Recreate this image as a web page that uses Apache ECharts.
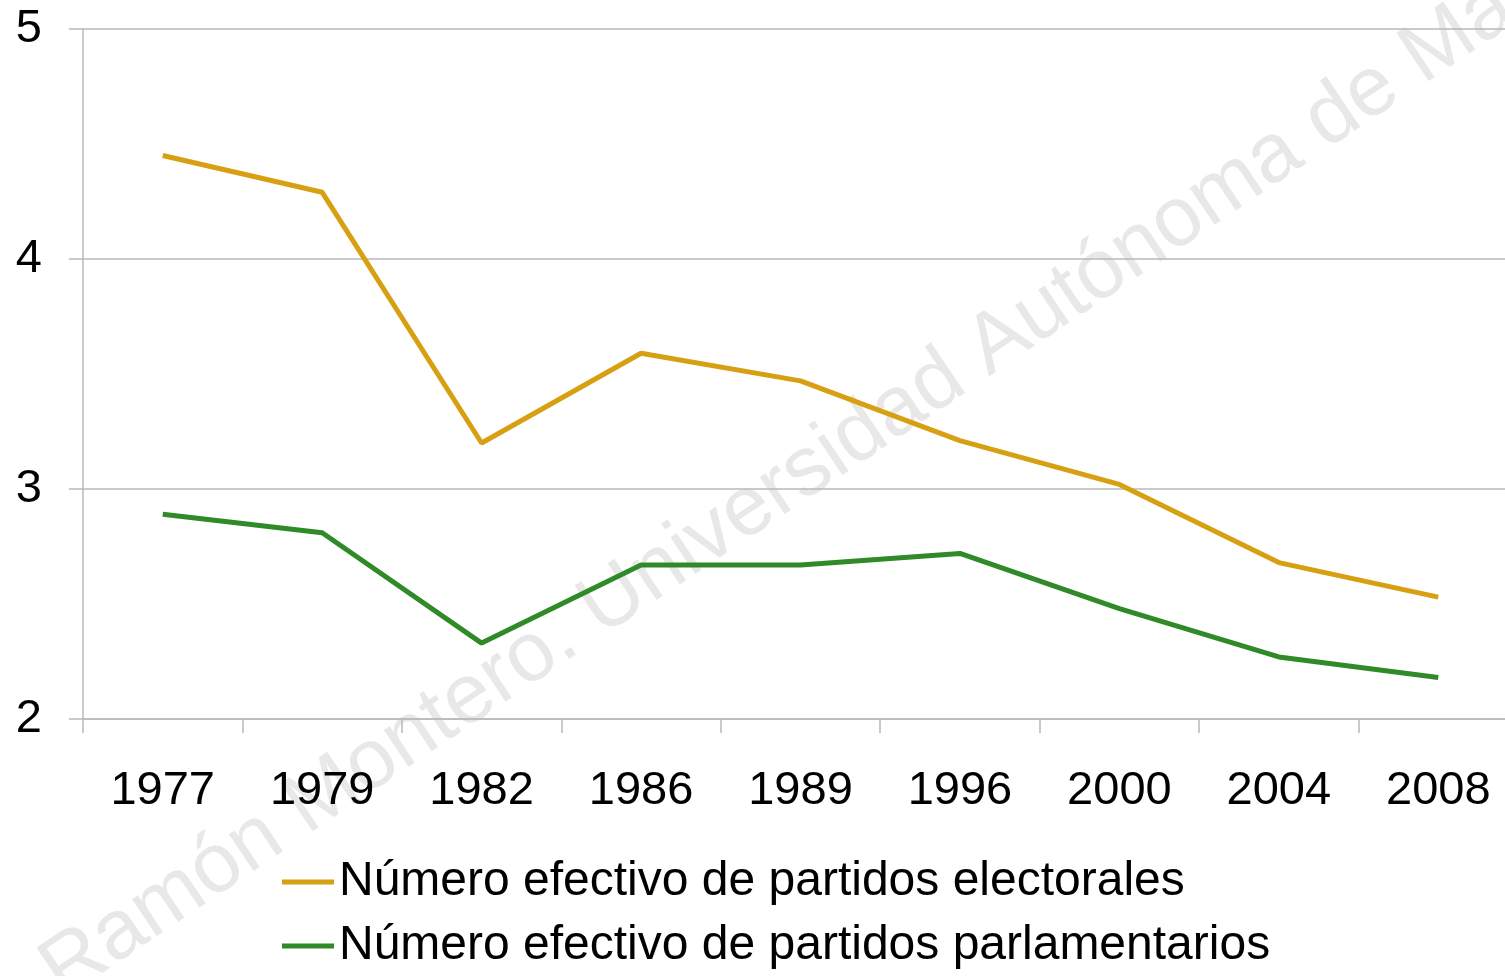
<!DOCTYPE html>
<html>
<head>
<meta charset="utf-8">
<script src="https://cdn.jsdelivr.net/npm/echarts@6/dist/echarts.min.js"></script>
<style>
  html, body { margin: 0; padding: 0; background: #fff; }
  #chart { width: 1505px; height: 976px; }
</style>
</head>
<body>
<div id="chart"></div>
<script>
// datos
const years = ['1977', '1979', '1982', '1986', '1989', '1996', '2000', '2004', '2008']
const electorales = [4.45, 4.29, 3.20, 3.59, 3.47, 3.21, 3.02, 2.68, 2.53]
const parlamentarios = [2.89, 2.81, 2.33, 2.67, 2.67, 2.72, 2.48, 2.27, 2.18]
const seriesNames = ['Número efectivo de partidos electorales', 'Número efectivo de partidos parlamentarios']

const chart = echarts.init(document.getElementById('chart'))
const font = 'Liberation Sans, Arial, sans-serif'
const gridColor = '#b9b9b9'

const option = {
  animation: false,
  backgroundColor: '#fff',
  textStyle: { fontFamily: font },
  grid: { left: 83, top: 29, width: 1435, height: 690, outerBoundsMode: 'none', containLabel: false },
  graphic: [
    {
      type: 'text',
      x: 50,
      y: 980,
      rotation: 0.592,
      z: -10,
      style: {
        text: 'Ramón Montero. Universidad Autónoma de Madrid',
        fill: '#e8e8e8',
        font: '84px ' + font,
        textAlign: 'left',
        textVerticalAlign: 'middle'
      }
    }
  ],
  legend: {
    orient: 'vertical',
    left: 277,
    top: 853,
    itemGap: 16,
    itemWidth: 52,
    itemHeight: 5,
    icon: 'rect',
    textStyle: { fontSize: 48, color: '#000', fontFamily: font },
    data: seriesNames
  },
  xAxis: {
    type: 'category',
    data: years,
    boundaryGap: true,
    axisLine: { lineStyle: { color: gridColor, width: 1.5 } },
    axisTick: { show: true, length: 14, lineStyle: { color: gridColor, width: 1.5 } },
    axisLabel: { fontSize: 47, color: '#000', margin: 49, fontFamily: font },
    splitLine: { show: false }
  },
  yAxis: {
    type: 'value',
    min: 2,
    max: 5,
    interval: 1,
    axisLine: { show: true, lineStyle: { color: gridColor, width: 1.5 } },
    axisTick: { show: true, length: 14, lineStyle: { color: gridColor, width: 1.5 } },
    axisLabel: { fontSize: 47, color: '#000', margin: 41, fontFamily: font },
    splitLine: { show: true, lineStyle: { color: gridColor, width: 1.5 } }
  },
  series: [
    {
      name: seriesNames[0],
      type: 'line',
      data: electorales,
      symbol: 'none',
      color: '#d7a012',
      lineStyle: { width: 5, color: '#d7a012' }
    },
    {
      name: seriesNames[1],
      type: 'line',
      data: parlamentarios,
      symbol: 'none',
      color: '#2f8a27',
      lineStyle: { width: 5, color: '#2f8a27' }
    }
  ]
}

chart.setOption(option)
</script>
</body>
</html>
